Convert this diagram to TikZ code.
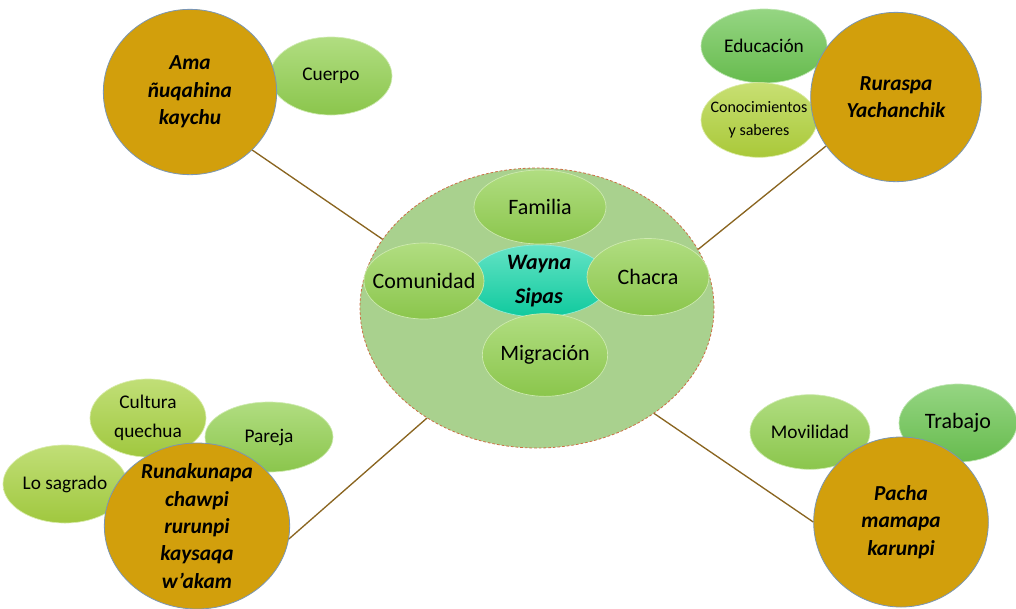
\documentclass[tikz,border=0pt]{standalone}
\usepackage{fontspec}
\setmainfont{Carlito}
\usetikzlibrary{shapes.geometric}

\definecolor{goldball}{HTML}{D29F0C}
\definecolor{ballrim}{HTML}{7A96B4}
\definecolor{leaf}{HTML}{92D050}
\definecolor{deepleaf}{HTML}{6CC552}
\definecolor{limeleaf}{HTML}{B2D33C}
\definecolor{seafoam}{HTML}{10D4A6}
\definecolor{hubfill}{HTML}{A9D18E}
\definecolor{hubrim}{HTML}{CC6E45}
\definecolor{stem}{HTML}{8A6520}

\begin{document}
\begin{tikzpicture}[x=0.75pt, y=-0.75pt,
    % Green satellite bubbles
    bubble/.style={ellipse, inner sep=-12pt, draw=#1!45!white, line width=0.5pt,
                   top color=#1!72!white, bottom color=#1!95!black, align=center,
                   font=\fontsize{14.5}{22}\selectfont},
    bubble/.default=leaf,
    bigtext/.style={font=\fontsize{16.5}{20}\selectfont},
    % Gold theme circles
    ball/.style={ellipse, inner sep=-12pt, draw=ballrim, line width=0.6pt,
                 fill=goldball, align=center,
                 font=\fontsize{16}{20.5}\selectfont\bfseries\itshape},
    stemline/.style={draw=stem, line width=1pt}
]
\useasboundingbox (0,0) rectangle (1016,608);

% Central hub
\node[ellipse, draw=hubrim, dash pattern=on 2pt off 1.5pt, line width=0.6pt,
      fill=hubfill, minimum width=265.5pt, minimum height=210pt] (hub) at (537,308) {};
\node[ellipse, inner sep=-12pt, top color=seafoam!65!white, bottom color=seafoam!95!black,
      draw=seafoam!45!white, line width=0.5pt, minimum width=105pt, minimum height=54pt,
      align=center, font=\fontsize{16.5}{25}\selectfont\bfseries\itshape]
      (wayna) at (539,281) {Wayna\\Sipas};
\node[bubble, bigtext, minimum width=99pt, minimum height=55.5pt] (familia) at (540,207) {Familia};
\node[bubble, bigtext, minimum width=90pt, minimum height=57pt] (comunidad) at (424,281) {Comunidad};
\node[bubble, bigtext, minimum width=91.5pt, minimum height=57.75pt] (chacra) at (648,277) {Chacra};
\node[bubble, bigtext, minimum width=94pt, minimum height=62pt] (migracion) at (545,355) {Migración};

% Top left
\node[bubble, minimum width=91.5pt, minimum height=58.5pt] (cuerpo) at (331,76) {Cuerpo};
\node[ball, minimum width=130pt, minimum height=124pt] (ama) at (190,92) {Ama\\ñuqahina\\kaychu};

% Top right
\node[bubble=deepleaf, minimum width=94.5pt, minimum height=55.5pt] (educacion) at (764,46) {Educación};
\node[bubble=limeleaf, minimum width=87pt, minimum height=56pt,
      font=\fontsize{12}{17.5}\selectfont] (saberes) at (759,120) {Conocimientos\\y saberes};
\node[ball, minimum width=128pt, minimum height=127pt] (ruraspa) at (896,97) {Ruraspa\\Yachanchik};

% Bottom left
\node[bubble=limeleaf!70!leaf, minimum width=87pt, minimum height=58.5pt] (cultura) at (148,418) {Cultura\\quechua};
\node[bubble, minimum width=96pt, minimum height=52.5pt] (pareja) at (269,437) {Pareja};
\node[bubble=limeleaf!70!leaf, minimum width=93pt, minimum height=58.5pt] (sagrado) at (65,484) {Lo sagrado};
\node[ball, minimum width=139pt, minimum height=124.5pt] (runakunapa) at (197,526)
      {Runakunapa\\chawpi\\rurunpi\\kaysaqa\\w’akam};

% Bottom right
\node[bubble, minimum width=90pt, minimum height=56pt] (movilidad) at (810,432) {Movilidad};
\node[bubble=deepleaf, bigtext, minimum width=88.5pt, minimum height=58.5pt] (trabajo) at (958,423) {Trabajo};
\node[ball, minimum width=131pt, minimum height=127.5pt] (pacha) at (901,522) {Pacha\\mamapa\\karunpi};

% Links from hub to the four circles
\draw[stemline] (hub.156) -- (ama.-43);
\draw[stemline] (hub.20) -- (ruraspa.215);
\draw[stemline] (hub.225) -- (runakunapa.-8);
\draw[stemline] (hub.318) -- (pacha.180);

\end{tikzpicture}
\end{document}
